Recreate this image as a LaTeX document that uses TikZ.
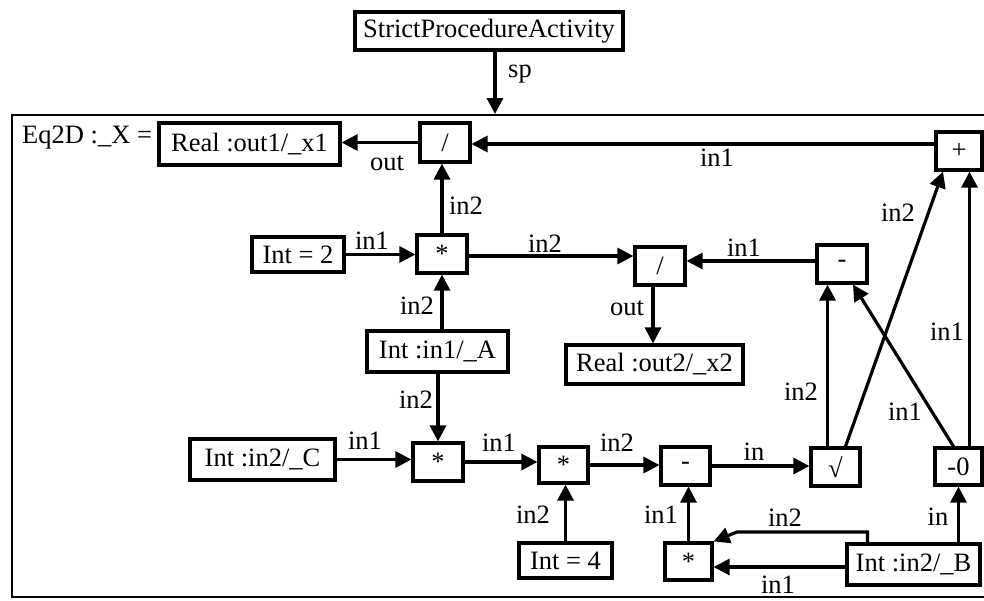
\documentclass[tikz,border=0pt]{standalone}
\usepackage{fontspec}
\setmainfont{Liberation Serif}
\usetikzlibrary{arrows.meta}
\newcommand{\fs}{\fontsize{26.5}{31}\selectfont}
\begin{document}
\begin{tikzpicture}[x=1pt,y=-1pt,
  box/.style={draw, line width=3.2pt, inner sep=0pt, font=\fs},
  arr/.style={line width=3.2pt, -{Triangle[length=16pt,width=16pt]}},
  lbl/.style={font=\fs, inner sep=0pt}]
\useasboundingbox (0,0) rectangle (984,600);
\clip (0,0) rectangle (984,600);
% frame
\draw[line width=2.8pt] (1010,115) -- (12,115) -- (12,597) -- (1010,597);
\coordinate (ftop) at (495,114);
% nodes
\node[box, minimum width=268, minimum height=38] (spa) at (489,31) {StrictProcedureActivity};
\node[lbl, anchor=base west] (eq) at (22,143) {Eq2D :\_X =};
\node[box, minimum width=181, minimum height=42] (real1) at (249.5,144) {Real :out1/\_x1};
\node[box, minimum width=50, minimum height=39] (divt) at (445,142.5) {/};
\node[box, minimum width=46, minimum height=38] (plus) at (959,151) {+};
\node[box, minimum width=92, minimum height=35] (int2) at (298,254.5) {Int = 2};
\node[box, minimum width=50, minimum height=38] (mult1) at (442,254) {*};
\node[box, minimum width=141, minimum height=41] (inA) at (437.5,351.5) {Int :in1/\_A};
\node[box, minimum width=145, minimum height=41] (inC) at (262.5,459.5) {Int :in2/\_C};
\node[box, minimum width=50, minimum height=38] (mult2) at (438,462) {*};
\node[box, minimum width=49, minimum height=36] (mult3) at (563.5,465) {*};
\node[box, minimum width=93, minimum height=35] (int4) at (565.5,560.5) {Int = 4};
\node[box, minimum width=49, minimum height=38] (minus1) at (685.5,466) {-};
\node[box, minimum width=49, minimum height=38] (sqrt) at (835.5,467) {√};
\node[box, minimum width=47, minimum height=37] (m0) at (958.5,466.5) {-0};
\node[box, minimum width=47, minimum height=37] (mult4) at (688.5,561.5) {*};
\node[box, minimum width=133, minimum height=41] (inB) at (913.5,564.5) {Int :in2/\_B};
\node[box, minimum width=50, minimum height=38] (divm) at (660,266) {/};
\node[box, minimum width=50, minimum height=38] (minus2) at (842,264) {-};
\node[box, minimum width=177, minimum height=39] (real2) at (654.5,364.5) {Real :out2/\_x2};
\coordinate (bend) at (737,532);
% connectors
\draw[arr] (spa.south -| ftop) -- (ftop);
\draw[arr] (divt.west) -- (divt.west -| real1.east);
\draw[arr] ([yshift=7pt]plus.west) -- ([yshift=7pt]plus.west -| divt.east);
\draw[arr] (mult1.north) -- (mult1.north |- divt.south);
\draw[arr] (int2.east) -- (int2.east -| mult1.west);
\draw[arr] (mult1.south |- inA.north) -- (mult1.south);
\draw[arr] (mult2.north |- inA.south) -- (mult2.north);
\draw[arr] (inC.east) -- (inC.east -| mult2.west);
\draw[arr] (mult2.east) -- (mult2.east -| mult3.west);
\draw[arr] (int4.north) -- (int4.north |- mult3.south);
\draw[arr] (mult3.east) -- (mult3.east -| minus1.west);
\draw[arr] (minus1.east) -- (minus1.east -| sqrt.west);
\draw[arr] (mult4.north) -- (mult4.north |- minus1.south);
\draw[arr] (m0.south |- inB.north) -- (m0.south);
\draw[arr] ([yshift=-2.5pt]inB.west) -- ([yshift=-2.5pt]inB.west -| mult4.east);
\draw[arr] ([xshift=-46pt]inB.north) -- ([xshift=-46pt]inB.north |- bend) -- (bend) -- (mult4.north east);
\draw[arr] ([xshift=-8pt]sqrt.north) -- ([xshift=-8pt]sqrt.north |- minus2.south);
\draw[arr] ([xshift=10pt]sqrt.north) -- ([xshift=-16pt]plus.south);
\draw[arr] ([xshift=-5pt]m0.north) -- ([xshift=11pt]minus2.south);
\draw[arr] ([xshift=11pt]m0.north) -- ([xshift=11pt]m0.north |- plus.south);
\draw[arr] ([yshift=-2pt]mult1.east) -- ([yshift=-2pt]mult1.east -| divm.west);
\draw[arr] ([yshift=3pt]minus2.west) -- ([yshift=3pt]minus2.west -| divm.east);
\draw[arr] ([xshift=-7pt]divm.south) -- ([xshift=-7pt]divm.south |- real2.north);
% labels
\node[lbl] (lsp) at (520,74) {sp};
\node[lbl] (l1) at (387,163) {out};
\node[lbl] (l2) at (717,158) {in1};
\node[lbl] (l3) at (372,241) {in1};
\node[lbl] (l4) at (417,306) {in2};
\node[lbl] (l5) at (466,206) {in2};
\node[lbl] (l6) at (545,244) {in2};
\node[lbl] (l7) at (744,248) {in1};
\node[lbl] (l8) at (627,308) {out};
\node[lbl] (l9) at (898,213) {in2};
\node[lbl] (l10) at (947,332) {in1};
\node[lbl] (l11) at (801,392) {in2};
\node[lbl] (l12) at (905,412) {in1};
\node[lbl] (l13) at (416,400) {in2};
\node[lbl] (l14) at (365,441) {in1};
\node[lbl] (l15) at (499,443) {in1};
\node[lbl] (l16) at (617,443) {in2};
\node[lbl] (l17) at (754,452) {in};
\node[lbl] (l18) at (533,515) {in2};
\node[lbl] (l19) at (661,515) {in1};
\node[lbl] (l20) at (785,518) {in2};
\node[lbl] (l21) at (938,517) {in};
\node[lbl] (l22) at (778,585) {in1};
\end{tikzpicture}
\end{document}
